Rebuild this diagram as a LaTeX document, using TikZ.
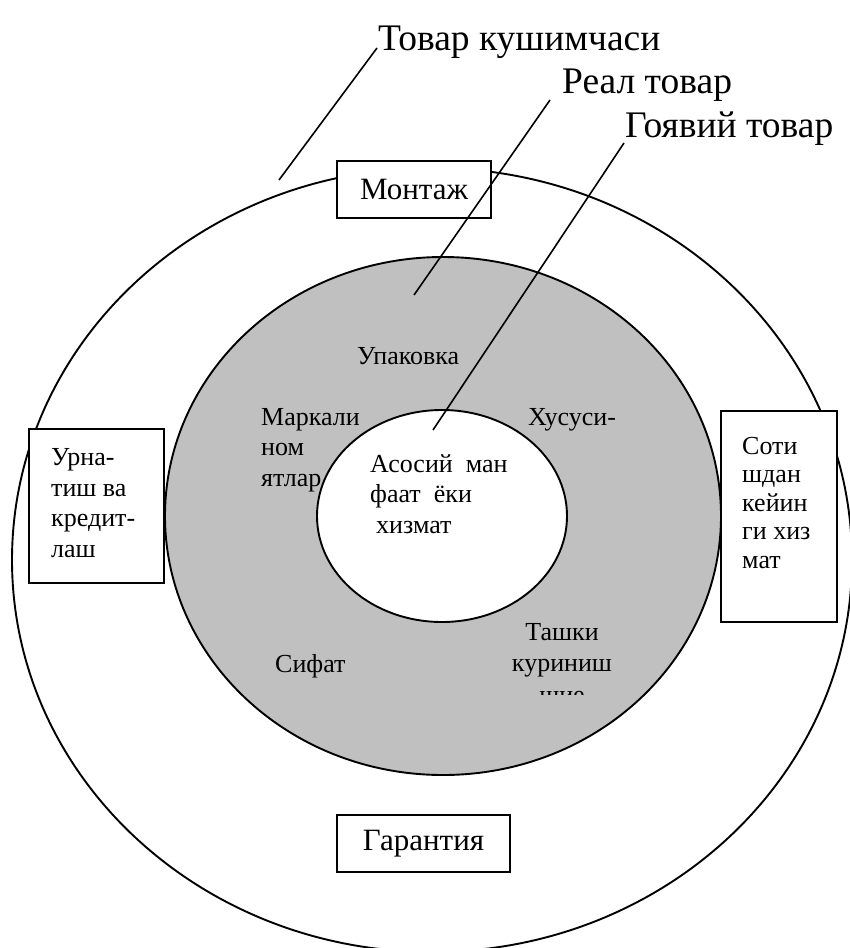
\documentclass[tikz,border=0pt]{standalone}
\usepackage{fontspec}
\setmainfont{Liberation Serif}
\usetikzlibrary{shapes.geometric}
\definecolor{ringgray}{RGB}{192,192,192}
\begin{document}
\begin{tikzpicture}[x=1pt,y=-1pt,
  ring/.style={ellipse, draw=black, line width=1.9pt, inner sep=0pt},
  tagbox/.style={rectangle, draw=black, line width=1.9pt, fill=white, inner sep=0pt},
  leader/.style={draw=black, line width=1.6pt},
  big/.style={font=\fontsize{37.5}{42}\selectfont},
  mid/.style={font=\fontsize{31}{36}\selectfont},
  small/.style={font=\fontsize{26}{30.5}\selectfont},
  word/.style={inner sep=0pt, anchor=base west}]
\useasboundingbox (0,0) rectangle (850,948);
\clip (0,0) rectangle (850,948);

% three nested levels of the product
\node[ring, minimum width=840pt, minimum height=784pt] (outer) at (432,560) {};
\node[ring, fill=ringgray, minimum width=556pt, minimum height=518pt] (real) at (443,516) {};
% multi-line nodes are anchored at the baseline of their last line
\node[small, word, align=left] (brand) at (261,486) {Маркали\\ном\\ятлар};
\node[ring, fill=white, minimum width=250pt, minimum height=212pt] (core) at (442,516) {};

% labels of the actual product
\node[small, word] (pack) at (357,364) {Упаковка};
\node[small, word] (own) at (528,425) {Хусуси-};
\node[small, word] (qual) at (275,672) {Сифат};
\begin{scope}
  \clip (470,600) rectangle (660,694);
  \node[font=\fontsize{26}{31.5}\selectfont, inner sep=0pt, anchor=base, align=center] (look) at (562,703) {Ташки\\куриниш\\шие};
\end{scope}

% core benefit
\node[small, word, align=left] (benefit) at (370,533) {Асосий~~ман\\фаат~~ёки\\\hspace*{6pt}хизмат};

% augmented product boxes
\node[tagbox, minimum width=154pt, minimum height=57pt] (mount) at (414,189.5) {};
\node[mid] at (mount) {Монтаж};
\node[tagbox, minimum width=173pt, minimum height=57pt] (warranty) at (423.5,843.5) {};
\node[mid] at (warranty) {Гарантия};
\node[tagbox, minimum width=135pt, minimum height=154pt] (credit) at (96.5,506) {};
\node[small, word, align=left] at (51,557) {Урна-\\тиш ва\\кредит-\\лаш};
\node[tagbox, minimum width=116pt, minimum height=211pt] (service) at (779,516.5) {};
\node[font=\fontsize{26}{28.5}\selectfont, word, align=left] at (742,568) {Соти\\шдан\\кейин\\ги хиз\\мат};

% level titles and their leader lines
\node[big, word] (t1) at (378,50) {Товар кушимчаси};
\node[big, word] (t2) at (562,93) {Реал товар};
\node[big, word] (t3) at (625,137) {Гоявий товар};
\coordinate (p1) at (377,48);
\coordinate (q1) at (279,180);
\coordinate (p2) at (550,100);
\coordinate (q2) at (414,295);
\coordinate (p3) at (624,143);
\coordinate (q3) at (433,430);
\draw[leader] (p1) -- (q1);
\draw[leader] (p2) -- (q2);
\draw[leader] (p3) -- (q3);
\end{tikzpicture}
\end{document}
